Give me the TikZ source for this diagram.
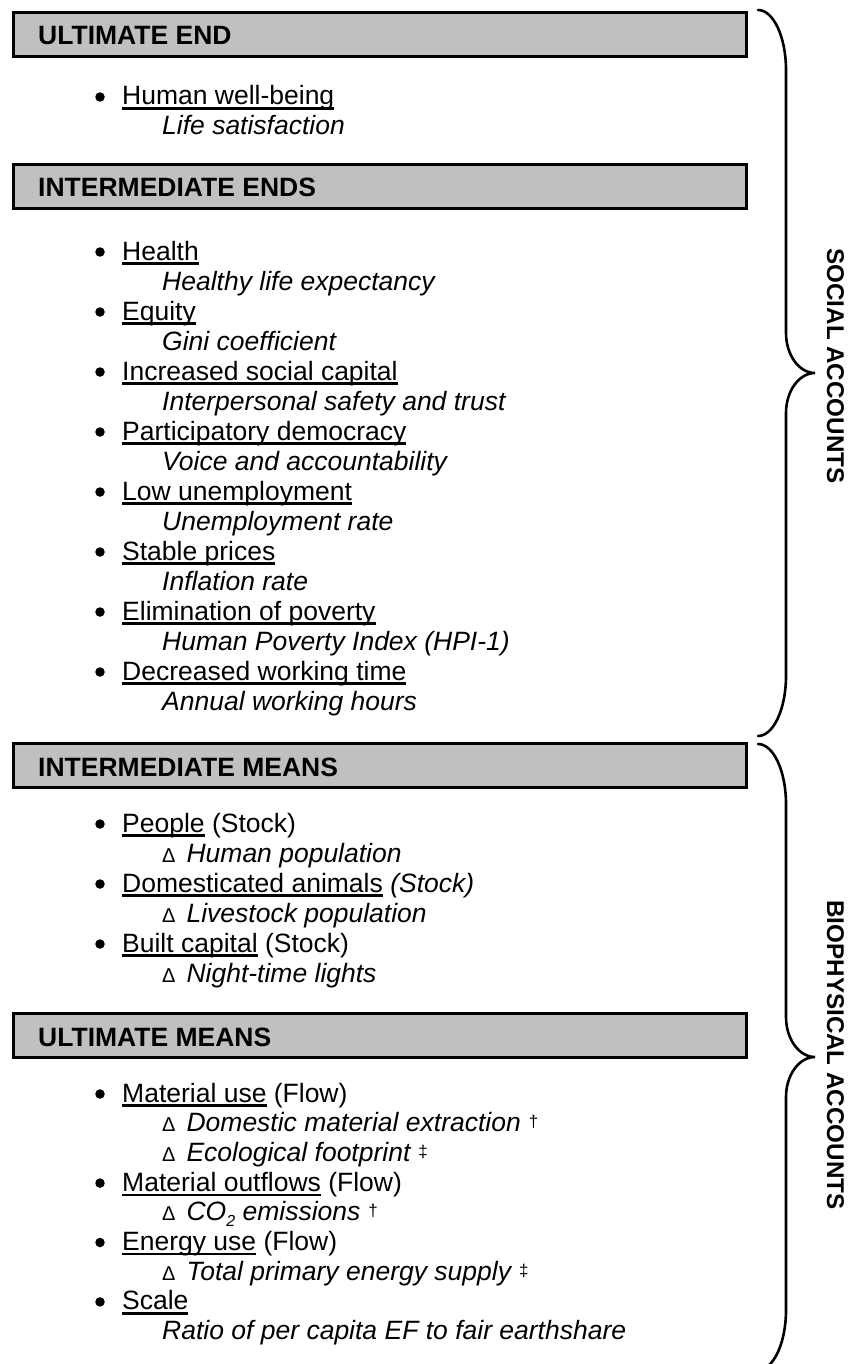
\documentclass[tikz,border=0pt]{standalone}
\usepackage{fontspec}
\setmainfont{Liberation Sans}
\definecolor{boxgray}{HTML}{C0C0C0}
\newcommand{\mainsize}{\fontsize{26.5}{30}\selectfont}
\newcommand{\labelsize}{\fontsize{24.2}{28}\selectfont}
% underlined key term: rule at a fixed depth below the baseline
\newcommand{\ulterm}[1]{\setbox0=\hbox{#1}\rlap{\rule[-4.6pt]{\wd0}{2.2pt}}\box0\relax}
% small upright delta in front of change indicators
\newcommand{\dmark}{{\upshape\fontsize{20}{20}\selectfont Δ}\hspace{11pt}}
% raised footnote marks
\newcommand{\fnmark}[1]{\hspace{8pt}\raisebox{4pt}{\upshape\fontsize{17}{17}\selectfont #1}}
\newcommand{\subtwo}{\raisebox{-6pt}{\fontsize{16}{16}\selectfont 2}}

\begin{document}
\begin{tikzpicture}[x=1pt,y=-1pt,
  hdrbox/.style={draw=black, line width=3pt, fill=boxgray, rectangle,
    anchor=north west, minimum width=733pt, minimum height=44pt,
    inner sep=0pt, outer sep=0pt},
  hdrtext/.style={anchor=base west, inner sep=0pt, font=\mainsize\bfseries},
  dot/.style={circle, fill=black, inner sep=0pt, minimum size=9.5pt},
  item/.style={anchor=base west, inner sep=0pt, font=\mainsize},
  sub/.style={anchor=base west, inner sep=0pt, font=\mainsize\itshape},
  bracepath/.style={line width=2.6pt, line cap=round},
  sidelabel/.style={rotate=-90, inner sep=0pt, font=\labelsize\bfseries}]

\useasboundingbox (0,0) rectangle (855,1364);
\fill[white] (0,0) rectangle (855,1364);
\clip (0,0) rectangle (855,1364);

% ---------- ULTIMATE END ----------
\node[hdrbox] (box1) at (13.5,12.5) {};
\node[hdrtext] (h1) at (38,45) {ULTIMATE END};
\node[dot] (d1) at (100,97) {};
\node[item] (i1) at (122,105) {\ulterm{Human well-being}};
\node[sub] (s1) at (162,135) {Life satisfaction};

% ---------- INTERMEDIATE ENDS ----------
\node[hdrbox] (box2) at (13.5,164.5) {};
\node[hdrtext] (h2) at (38,197) {INTERMEDIATE ENDS};
\node[dot] (d2) at (100,252) {};
\node[item] (i2) at (122,260) {\ulterm{Health}};
\node[sub] (s2) at (162,290) {Healthy life expectancy};
\node[dot] (d3) at (100,312) {};
\node[item] (i3) at (122,320) {\ulterm{Equity}};
\node[sub] (s3) at (162,350) {Gini coefficient};
\node[dot] (d4) at (100,372) {};
\node[item] (i4) at (122,380) {\ulterm{Increased social capital}};
\node[sub] (s4) at (162,410) {Interpersonal safety and trust};
\node[dot] (d5) at (100,432) {};
\node[item] (i5) at (122,440) {\ulterm{Participatory democracy}};
\node[sub] (s5) at (162,470) {Voice and accountability};
\node[dot] (d6) at (100,492) {};
\node[item] (i6) at (122,500) {\ulterm{Low unemployment}};
\node[sub] (s6) at (162,530) {Unemployment rate};
\node[dot] (d7) at (100,552) {};
\node[item] (i7) at (122,560) {\ulterm{Stable prices}};
\node[sub] (s7) at (162,590) {Inflation rate};
\node[dot] (d8) at (100,612) {};
\node[item] (i8) at (122,620) {\ulterm{Elimination of poverty}};
\node[sub] (s8) at (162,650) {Human Poverty Index (HPI-1)};
\node[dot] (d9) at (100,672) {};
\node[item] (i9) at (122,680) {\ulterm{Decreased working time}};
\node[sub] (s9) at (162,710) {Annual working hours};

% ---------- INTERMEDIATE MEANS ----------
\node[hdrbox] (box3) at (13.5,743.5) {};
\node[hdrtext] (h3) at (38,776) {INTERMEDIATE MEANS};
\node[dot] (d10) at (100,824) {};
\node[item] (i10) at (122,832) {\ulterm{People} (Stock)};
\node[sub] (s10) at (162,862) {\dmark Human population};
\node[dot] (d11) at (100,884) {};
\node[item] (i11) at (122,892) {\ulterm{Domesticated animals} \textit{(Stock)}};
\node[sub] (s11) at (162,922) {\dmark Livestock population};
\node[dot] (d12) at (100,944) {};
\node[item] (i12) at (122,952) {\ulterm{Built capital} (Stock)};
\node[sub] (s12) at (162,982) {\dmark Night-time lights};

% ---------- ULTIMATE MEANS ----------
\node[hdrbox] (box4) at (13.5,1013.5) {};
\node[hdrtext] (h4) at (38,1046) {ULTIMATE MEANS};
\node[dot] (d13) at (100,1094) {};
\node[item] (i13) at (122,1102) {\ulterm{Material use} (Flow)};
\node[sub] (s13) at (162,1131.7) {\dmark Domestic material extraction\fnmark{†}};
\node[sub] (s14) at (162,1161.4) {\dmark Ecological footprint\fnmark{‡}};
\node[dot] (d15) at (100,1183.1) {};
\node[item] (i15) at (122,1191.1) {\ulterm{Material outflows} (Flow)};
\node[sub] (s15) at (162,1220.8) {\dmark CO\subtwo\ emissions\fnmark{†}};
\node[dot] (d16) at (100,1242.5) {};
\node[item] (i16) at (122,1250.5) {\ulterm{Energy use} (Flow)};
\node[sub] (s16) at (162,1280.2) {\dmark Total primary energy supply\fnmark{‡}};
\node[dot] (d17) at (100,1301.9) {};
\node[item] (i17) at (122,1309.9) {\ulterm{Scale}};
\node[sub] (s17) at (162,1339.6) {Ratio of per capita EF to fair earthshare};

% ---------- braces and account labels ----------
\draw[bracepath] (758,10) .. controls (773.4,10) and (786,37) .. (786,70)
  -- (786,333) .. controls (786,355) and (799,373) .. (815,373)
  .. controls (799,373) and (786,391) .. (786,413)
  -- (786,676) .. controls (786,709) and (773.4,736) .. (758,736);
\node[sidelabel] (social) at (835.5,366) {SOCIAL ACCOUNTS};

\draw[bracepath] (758,744) .. controls (773.4,744) and (786,771) .. (786,804)
  -- (786,1017) .. controls (786,1039) and (799,1057) .. (815,1057)
  .. controls (799,1057) and (786,1075) .. (786,1097)
  -- (786,1310) .. controls (786,1343) and (773.4,1370) .. (758,1370);
\node[sidelabel] (bio) at (835.5,1055) {BIOPHYSICAL ACCOUNTS};
\end{tikzpicture}
\end{document}
